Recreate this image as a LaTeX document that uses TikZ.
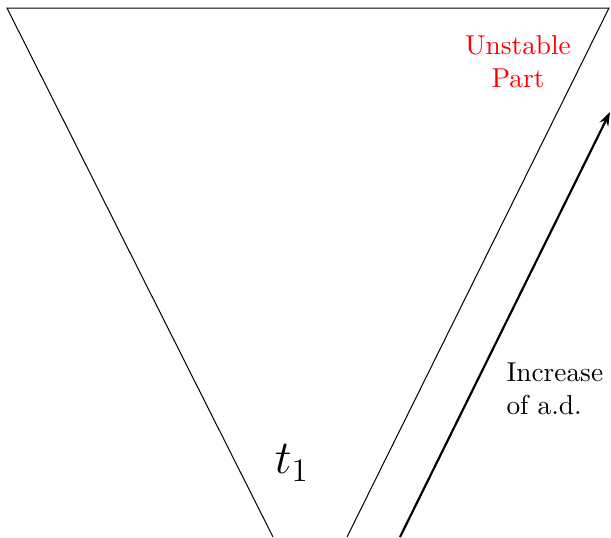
\documentclass[tikz,border=0pt]{standalone}
\usetikzlibrary{arrows.meta}
\begin{document}
\begin{tikzpicture}[x=0.366pt,y=-0.366pt,
  thinline/.style={line width=0.37pt},
  arrline/.style={line width=0.8pt,-{Stealth[length=5pt,width=3.5pt]}},
  redlabel/.style={text=red,align=center,font=\normalsize,inner sep=0pt},
  blacklabel/.style={align=left,inner sep=0pt}]
\useasboundingbox (0,0) rectangle (611,537);
\coordinate (tl) at (7,8);
\coordinate (tr) at (609,8);
\coordinate (bl) at (273,537);
\coordinate (br) at (347,537);
\coordinate (atail) at (400,537);
\coordinate (ahead) at (610,112);
\draw[thinline] (bl) -- (tl) -- (tr) -- (br);
\draw[arrline] (atail) -- (ahead);
\node[redlabel] (unst) at (518,62) {Unstable\\Part};
\node[blacklabel,anchor=west] (inc) at (506,389) {Increase\\of a.d.};
\node[inner sep=0pt] (t1) at (292,463) {\LARGE $t_1$};
\end{tikzpicture}
\end{document}
